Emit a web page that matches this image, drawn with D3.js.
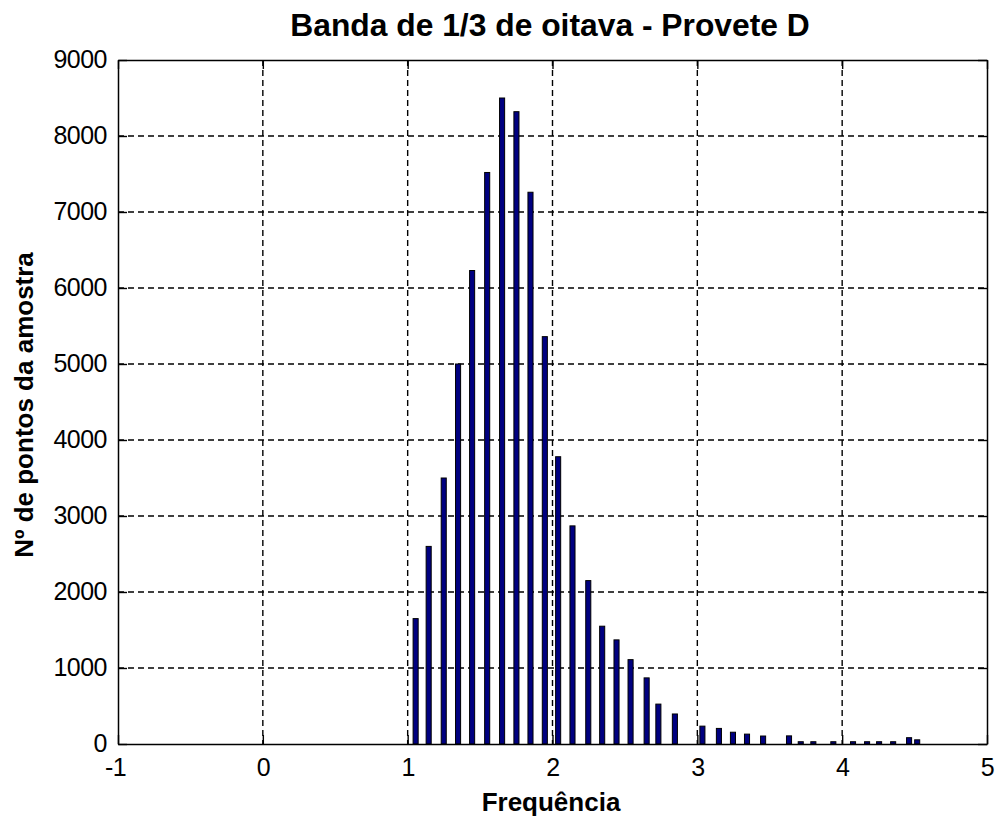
<!DOCTYPE html>
<html>
<head>
<meta charset="utf-8">
<script src="https://cdn.jsdelivr.net/npm/d3@7"></script>
<style>
  html, body { margin: 0; padding: 0; background: #ffffff; }
  svg { display: block; }
</style>
</head>
<body>
<script>
// ---- data ----
const title = "Banda de 1/3 de oitava - Provete D";
const xLabel = "Frequência";
const yLabel = "Nº de pontos da amostra";
const xTicks = [-1, 0, 1, 2, 3, 4, 5];
const yTicks = [0, 1000, 2000, 3000, 4000, 5000, 6000, 7000, 8000, 9000];
const binCenters = [1.055, 1.145, 1.249, 1.348, 1.445, 1.549, 1.652, 1.751, 1.848, 1.947,
                    2.039, 2.138, 2.247, 2.343, 2.442, 2.539, 2.650, 2.731, 2.845,
                    3.035, 3.149, 3.246, 3.343, 3.454, 3.633, 3.714, 3.801, 3.939,
                    4.075, 4.172, 4.255, 4.352, 4.462, 4.518];
const counts = [1650, 2600, 3500, 5000, 6230, 7520, 8500, 8320, 7260, 5360,
                3780, 2870, 2150, 1550, 1370, 1110, 870, 525, 395,
                235, 205, 155, 130, 105, 107, 30, 30, 30,
                30, 30, 30, 30, 83, 55];

(function () {
// ---- layout ----
const W = 998, H = 816;
const mLeft = 118, mRight = 987, mTop = 60, mBottom = 744;
const barWidthUnits = 0.035;
const tickLen = 9;
const font = "'Liberation Sans', Arial, Helvetica, sans-serif";

const svg = d3.select("body").append("svg").attr("width", W).attr("height", H);
svg.append("rect").attr("width", W).attr("height", H).attr("fill", "#fff");

const x = d3.scaleLinear().domain([-1, 5]).range([mLeft, mRight]);
const y = d3.scaleLinear().domain([0, 9000]).range([mBottom, mTop]);

// grid
const grid = svg.append("g").attr("stroke", "#000").attr("stroke-width", 1.4)
  .attr("stroke-dasharray", "6,4");
grid.selectAll("line.v").data(xTicks.slice(1, -1)).join("line")
  .attr("x1", d => x(d)).attr("x2", d => x(d))
  .attr("y1", mTop).attr("y2", mBottom);
grid.selectAll("line.h").data(yTicks.slice(1, -1)).join("line")
  .attr("x1", mLeft).attr("x2", mRight)
  .attr("y1", d => y(d)).attr("y2", d => y(d));

// bars
const bw = x(barWidthUnits) - x(0);
svg.append("g").selectAll("rect").data(binCenters.map((c, i) => ({c, v: counts[i]}))).join("rect")
  .attr("x", d => x(d.c) - bw / 2)
  .attr("y", d => y(d.v))
  .attr("width", bw)
  .attr("height", d => y(0) - y(d.v))
  .attr("fill", "#000080")
  .attr("stroke", "#000")
  .attr("stroke-width", 1);

// axes (inward ticks on all 4 sides)
const fmt = d => String(d);
const axB = svg.append("g").attr("transform", `translate(0,${mBottom})`)
  .call(d3.axisBottom(x).tickValues(xTicks).tickSizeInner(-tickLen).tickSizeOuter(0).tickFormat(fmt));
const axT = svg.append("g").attr("transform", `translate(0,${mTop})`)
  .call(d3.axisTop(x).tickValues(xTicks).tickSizeInner(-tickLen).tickSizeOuter(0).tickFormat(""));
const axL = svg.append("g").attr("transform", `translate(${mLeft},0)`)
  .call(d3.axisLeft(y).tickValues(yTicks).tickSizeInner(-tickLen).tickSizeOuter(0).tickFormat(fmt));
const axR = svg.append("g").attr("transform", `translate(${mRight},0)`)
  .call(d3.axisRight(y).tickValues(yTicks).tickSizeInner(-tickLen).tickSizeOuter(0).tickFormat(""));

[axB, axT, axL, axR].forEach(a => {
  a.select(".domain").attr("stroke", "#000").attr("stroke-width", 1.5);
  a.selectAll(".tick line").attr("stroke", "#000").attr("stroke-width", 1.4);
});

axB.selectAll(".tick text")
  .attr("y", 32).attr("dy", 0)
  .attr("dx", d => d < 0 ? -3 : 0)
  .attr("font-family", font).attr("font-size", 25).attr("letter-spacing", -0.5)
  .attr("fill", "#000");
axL.selectAll(".tick text")
  .attr("x", -11).attr("dy", "0.30em")
  .attr("font-family", font).attr("font-size", 25).attr("letter-spacing", -0.5)
  .attr("fill", "#000");

// title and labels
svg.append("text").attr("x", 550).attr("y", 36).attr("text-anchor", "middle")
  .attr("font-family", font).attr("font-weight", "bold").attr("font-size", 31.8)
  .attr("fill", "#000").text(title);
svg.append("text").attr("x", 551).attr("y", 811).attr("text-anchor", "middle")
  .attr("font-family", font).attr("font-weight", "bold").attr("font-size", 26)
  .attr("fill", "#000").text(xLabel);
svg.append("text").attr("transform", `translate(33,405) rotate(-90)`).attr("text-anchor", "middle")
  .attr("font-family", font).attr("font-weight", "bold").attr("font-size", 26)
  .attr("fill", "#000").text(yLabel);
})();
</script>
</body>
</html>
